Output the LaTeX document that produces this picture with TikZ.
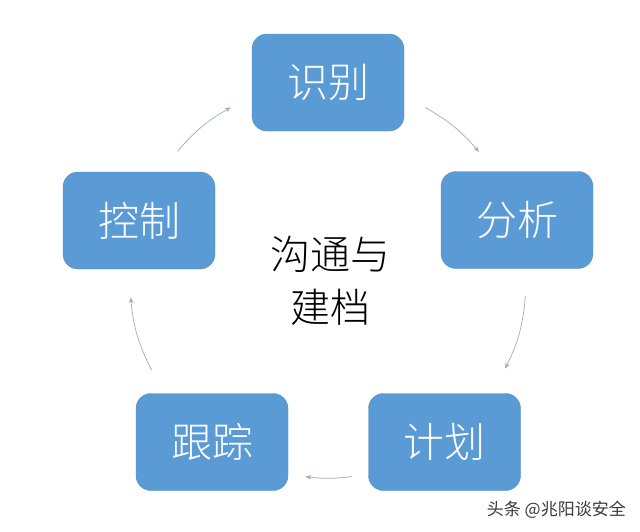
\documentclass[tikz,border=0pt]{standalone}
\usepackage{fontspec}
\newfontfamily\cjk{Noto Sans CJK SC Light}
\newfontfamily\cjkr{Noto Sans CJK SC}
\usetikzlibrary{arrows.meta,calc}
\definecolor{boxblue}{HTML}{5B9BD5}
\definecolor{arrowgray}{HTML}{A3ABB8}
\definecolor{markgray}{HTML}{3A3A3A}
\tikzset{
  stepbox/.style={rectangle, rounded corners=15pt, fill=boxblue, draw=boxblue!92!black, line width=0.4pt,
    minimum width=152pt, minimum height=97pt, text=white, font=\cjk\fontsize{41}{48}\selectfont, inner sep=0pt},
  cyc/.style={draw=arrowgray, line width=0.7pt, -{Stealth[length=6pt,width=4.5pt]}},
}
\begin{document}
\begin{tikzpicture}[x=1pt,y=-1pt]
\useasboundingbox (0,0) rectangle (640,531);
\fill[white] (0,0) rectangle (640,531);
\node[stepbox] (sb) at (328,82.5) {识别};
\node[stepbox] (fx) at (517,220) {分析};
\node[stepbox] (jh) at (444.5,442) {计划};
\node[stepbox] (gz) at (212,442) {跟踪};
\node[stepbox] (kz) at (139,220.5) {控制};
\node[align=center, text=black, font=\cjk\fontsize{40}{53}\selectfont, inner sep=0pt] (gt) at (330,281) {沟通与\\建档};
\node[text=markgray, font=\cjkr\fontsize{17}{20}\selectfont, anchor=east, inner sep=0pt] (wm) at (626,510) {头条 @兆阳谈安全};
\coordinate (C) at (328,280);
\coordinate (a1) at ($(C)+(60.6:198pt)$);
\coordinate (b1) at ($(C)+(40.3:198pt)$);
\coordinate (a2) at ($(C)+(-4.6:198pt)$);
\coordinate (b2) at ($(C)+(-26.6:198pt)$);
\coordinate (a3) at ($(C)+(-83:198pt)$);
\coordinate (b3) at ($(C)+(-96.6:198pt)$);
\coordinate (a4) at ($(C)+(207:198pt)$);
\coordinate (b4) at ($(C)+(185:198pt)$);
\coordinate (a5) at ($(C)+(139.5:198pt)$);
\coordinate (b5) at ($(C)+(119.4:198pt)$);
\draw[cyc] (a1) to[bend left=10] (b1);
\draw[cyc] (a2) to[bend left=11] (b2);
\draw[cyc] (a3) to[bend left=7] (b3);
\draw[cyc] (a4) to[bend left=11] (b4);
\draw[cyc] (a5) to[bend left=10] (b5);
\end{tikzpicture}
\end{document}
